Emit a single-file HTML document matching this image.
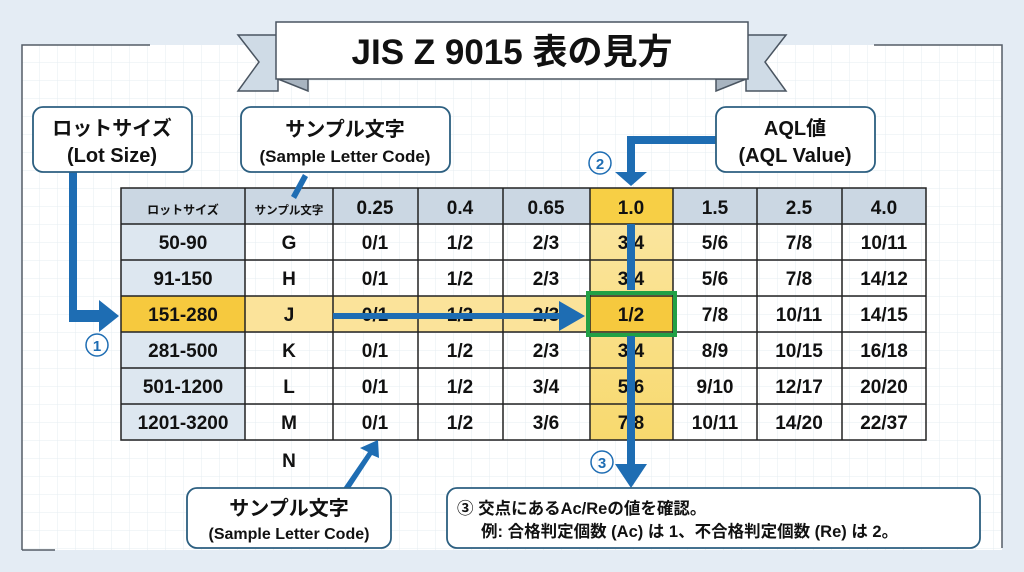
<!DOCTYPE html>
<html><head><meta charset="utf-8"><style>
html,body{margin:0;padding:0;background:#e4ecf4;}
svg{display:block;font-family:"Liberation Sans","Noto Sans CJK JP",sans-serif;font-weight:bold;}
</style></head><body>
<svg width="1024" height="572" viewBox="0 0 1024 572" xmlns="http://www.w3.org/2000/svg">
<defs>
<pattern id="g" width="18" height="18" patternUnits="userSpaceOnUse" x="22" y="45">
<path d="M18 0V18M0 18H18" stroke="#e6ecf2" stroke-width="1" fill="none"/>
</pattern>
<linearGradient id="yl" x1="0" x2="0" y1="0" y2="1"><stop offset="0" stop-color="#fbe7a6"/><stop offset="1" stop-color="#f8d96e"/></linearGradient>
</defs>
<rect width="1024" height="572" fill="#e4ecf4"/>
<rect x="22" y="45" width="980" height="505" fill="#fff"/>
<rect x="22" y="45" width="980" height="505" fill="url(#g)"/>
<path d="M22 550V45H150M874 45H1002V548" stroke="#555d66" stroke-width="1.5" fill="none"/>
<path d="M22 550H55" stroke="#555d66" stroke-width="1.5"/>
<!-- title ribbon -->
<polygon points="238,35 278,35 278,91 238,91 259,62" fill="#cfdbe6" stroke="#4a5561" stroke-width="1.5"/>
<polygon points="278,79 308,79 308,91" fill="#a8b4c0" stroke="#4a5561" stroke-width="1.5"/>
<polygon points="786,35 746,35 746,91 786,91 765,62" fill="#cfdbe6" stroke="#4a5561" stroke-width="1.5"/>
<polygon points="746,79 716,79 716,91" fill="#a8b4c0" stroke="#4a5561" stroke-width="1.5"/>
<rect x="276" y="22" width="472" height="57" fill="#fff" stroke="#4a5561" stroke-width="1.5"/>
<text x="512" y="64" font-size="35" text-anchor="middle" fill="#111">JIS Z 9015 表の見方</text>
<!-- table backgrounds -->
<rect x="121" y="188" width="805" height="36" fill="#cbd7e3"/>
<rect x="121" y="224" width="124" height="216" fill="#dde7f0"/>
<rect x="245" y="296" width="345" height="36" fill="#fbe39a"/>
<rect x="121" y="296" width="124" height="36" fill="#f6c93e"/>
<rect x="590" y="188" width="83" height="252" fill="url(#yl)"/>
<rect x="590" y="188" width="83" height="36" fill="#f7cf45"/>
<rect x="590" y="296" width="83" height="36" fill="#f6c93e"/>
<g stroke="#222" stroke-width="1.5" fill="none">
<rect x="121" y="188" width="805" height="252"/>
<path d="M121 224H926M121 260H926M121 296H926M121 332H926M121 368H926M121 404H926"/>
<path d="M245 188V440M333 188V440M418 188V440M503 188V440M590 188V440M673 188V440M757 188V440M842 188V440"/>
</g>
<g font-size="19" text-anchor="middle" fill="#111">
<text x="183" y="214" font-size="12">ロットサイズ</text>
<text x="289" y="214" font-size="11.5">サンプル文字</text>
<text x="375" y="214">0.25</text><text x="460" y="214">0.4</text><text x="546" y="214">0.65</text><text x="631" y="214">1.0</text><text x="715" y="214">1.5</text><text x="799" y="214">2.5</text><text x="884" y="214">4.0</text>
<text x="183" y="249">50-90</text><text x="289" y="249">G</text><text x="375" y="249">0/1</text><text x="460" y="249">1/2</text><text x="546" y="249">2/3</text><text x="631" y="249">3/4</text><text x="715" y="249">5/6</text><text x="799" y="249">7/8</text><text x="884" y="249">10/11</text>
<text x="183" y="285">91-150</text><text x="289" y="285">H</text><text x="375" y="285">0/1</text><text x="460" y="285">1/2</text><text x="546" y="285">2/3</text><text x="631" y="285">3/4</text><text x="715" y="285">5/6</text><text x="799" y="285">7/8</text><text x="884" y="285">14/12</text>
<text x="183" y="321">151-280</text><text x="289" y="321">J</text><text x="375" y="321">0/1</text><text x="460" y="321">1/2</text><text x="546" y="321">2/3</text><text x="631" y="321">1/2</text><text x="715" y="321">7/8</text><text x="799" y="321">10/11</text><text x="884" y="321">14/15</text>
<text x="183" y="357">281-500</text><text x="289" y="357">K</text><text x="375" y="357">0/1</text><text x="460" y="357">1/2</text><text x="546" y="357">2/3</text><text x="631" y="357">3/4</text><text x="715" y="357">8/9</text><text x="799" y="357">10/15</text><text x="884" y="357">16/18</text>
<text x="183" y="393">501-1200</text><text x="289" y="393">L</text><text x="375" y="393">0/1</text><text x="460" y="393">1/2</text><text x="546" y="393">3/4</text><text x="631" y="393">5/6</text><text x="715" y="393">9/10</text><text x="799" y="393">12/17</text><text x="884" y="393">20/20</text>
<text x="183" y="429">1201-3200</text><text x="289" y="429">M</text><text x="375" y="429">0/1</text><text x="460" y="429">1/2</text><text x="546" y="429">3/6</text><text x="631" y="429">7/8</text><text x="715" y="429">10/11</text><text x="799" y="429">14/20</text><text x="884" y="429">22/37</text>
<text x="289" y="467">N</text>
</g>
<rect x="588" y="293" width="87" height="42" fill="none" stroke="#22a045" stroke-width="4"/>
<!-- arrows -->
<g fill="#1e6db3" stroke="none">
<path d="M69 172h8v138h22v-10l20 16-20 16v-10h-30z"/>
<path d="M333 313h226v-12l26 15-26 15v-12h-226z"/>
<path d="M716 136v8h-81v28h12l-16 14-16-14h12v-36z"/>
<path d="M627 224h8v66h-8z"/>
<path d="M627 336h8v128h12l-16 24-16-24h12z"/>
<path d="M342 490l26-38-8-4 18-8 1 18-7-3-25 38z"/>
<path d="M291 196l12-22 5 3-12 22z"/>
</g>
<g fill="none" stroke="#1e6db3" stroke-width="1.5"><circle cx="97" cy="345" r="11"/><circle cx="600" cy="163" r="11"/><circle cx="602" cy="462" r="11"/></g>
<g font-size="15" fill="#1e6db3" text-anchor="middle"><text x="97" y="351">1</text><text x="600" y="169">2</text><text x="602" y="468">3</text></g>
<!-- callouts -->
<g fill="#fff" stroke="#2c5f80" stroke-width="1.8">
<rect x="33" y="107" width="159" height="65" rx="10"/>
<rect x="241" y="107" width="209" height="65" rx="10"/>
<rect x="716" y="107" width="159" height="65" rx="10"/>
<rect x="187" y="488" width="204" height="60" rx="10"/>
<rect x="447" y="488" width="533" height="60" rx="10"/>
</g>
<g font-size="20" text-anchor="middle" fill="#111">
<text x="112" y="135">ロットサイズ</text><text x="112" y="162">(Lot Size)</text>
<text x="345" y="136">サンプル文字</text><text x="345" y="162" font-size="17">(Sample Letter Code)</text>
<text x="795" y="135">AQL値</text><text x="795" y="162">(AQL Value)</text>
<text x="289" y="515">サンプル文字</text><text x="289" y="539" font-size="16">(Sample Letter Code)</text>
</g>
<g font-size="16.5" fill="#111">
<text x="457" y="514">③ 交点にあるAc/Reの値を確認。</text>
<text x="481" y="537">例: 合格判定個数 (Ac) は 1、不合格判定個数 (Re) は 2。</text>
</g>
</svg>
</body></html>
